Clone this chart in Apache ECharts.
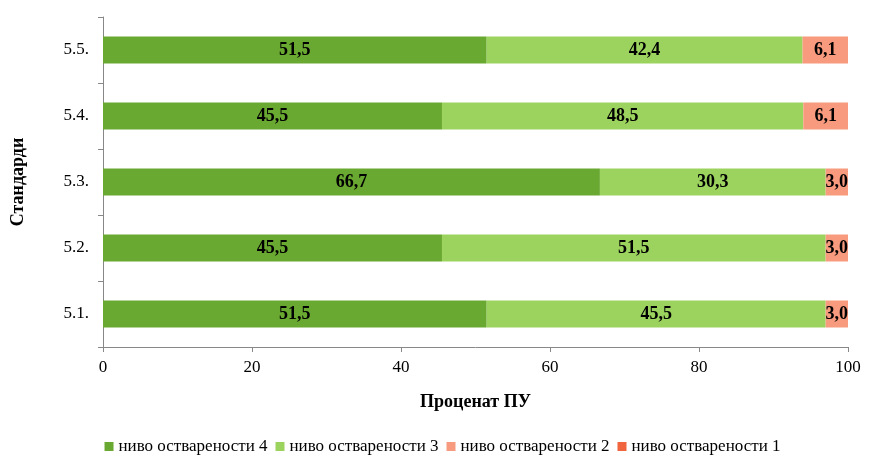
<!DOCTYPE html>
<html><head><meta charset="utf-8">
<script src="https://cdn.jsdelivr.net/npm/echarts@6/dist/echarts.min.js"></script>
<style>html,body{margin:0;padding:0;background:#fff}#c{width:885px;height:474px}</style>
</head><body><div id="c"></div>
<script>
var categories = ["5.1.", "5.2.", "5.3.", "5.4.", "5.5."];
var level4 = [51.5, 45.5, 66.7, 45.5, 51.5];
var level3 = [45.5, 51.5, 30.3, 48.5, 42.4];
var level2 = [3.0, 3.0, 3.0, 6.1, 6.1];
var level1 = [0, 0, 0, 0, 0];
var names = ["ниво остварености 4", "ниво остварености 3", "ниво остварености 2", "ниво остварености 1"];
var colors = ["#6aa931", "#9cd35e", "#f79a7e", "#f0643e"];
var font = "Liberation Serif";

function mk(i, data, showLabel) {
  return {
    name: names[i], type: "bar", stack: "t", data: data, barWidth: 27,
    itemStyle: { color: colors[i] },
    label: { show: showLabel, position: "inside", color: "#000", fontWeight: "bold",
      fontSize: 18, fontFamily: font, formatter: function (p) { return p.value.toFixed(1).replace(".", ","); } }
  };
}
var chart = echarts.init(document.getElementById("c"));
chart.setOption({
  animation: false,
  textStyle: { fontFamily: font },
  grid: { left: 103, right: 37, top: 17, bottom: 127 },
  legend: { bottom: 14, itemWidth: 9, itemHeight: 9, itemGap: 8, icon: "rect",
    textStyle: { fontFamily: font, fontSize: 17, color: "#000" } },
  xAxis: { type: "value", min: 0, max: 100, interval: 20,
    name: "Проценат ПУ", nameLocation: "middle", nameGap: 46,
    nameTextStyle: { fontFamily: font, fontSize: 18, fontWeight: "bold", color: "#000" },
    axisLine: { show: true, lineStyle: { color: "#888" } },
    axisTick: { show: true, length: 5, lineStyle: { color: "#888" } },
    splitLine: { show: false },
    axisLabel: { fontSize: 17, color: "#000", fontFamily: font, margin: 12 } },
  yAxis: { type: "category", data: categories,
    name: "Стандарди", nameLocation: "middle", nameGap: 76,
    nameTextStyle: { fontFamily: font, fontSize: 18, fontWeight: "bold", color: "#000" },
    axisLine: { show: true, lineStyle: { color: "#888" } },
    axisTick: { show: true, length: 5, lineStyle: { color: "#888" } },
    axisLabel: { fontSize: 17, color: "#000", fontFamily: font, margin: 14 } },
  series: [mk(0, level4, true), mk(1, level3, true), mk(2, level2, true), mk(3, level1, false)]
});
</script></body></html>
